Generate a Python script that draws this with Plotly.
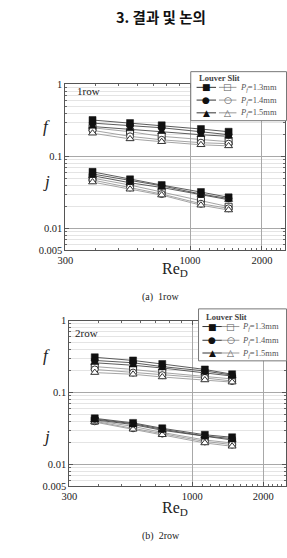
import plotly.graph_objects as go

W, H = 287, 558

# ---------------- data ----------------
pf_labels = ["1.3", "1.4", "1.5"]

re_1row = [390, 560, 760, 1110, 1450]
f_louver_1row = [[0.32, 0.29, 0.27, 0.24, 0.22],
                 [0.29, 0.27, 0.25, 0.22, 0.20],
                 [0.26, 0.24, 0.22, 0.20, 0.19]]
f_slit_1row = [[0.25, 0.22, 0.19, 0.17, 0.16],
               [0.23, 0.19, 0.17, 0.155, 0.15],
               [0.21, 0.175, 0.16, 0.145, 0.14]]
j_louver_1row = [[0.061, 0.048, 0.040, 0.032, 0.027],
                 [0.057, 0.046, 0.039, 0.030, 0.026],
                 [0.054, 0.043, 0.037, 0.029, 0.025]]
j_slit_1row = [[0.050, 0.040, 0.032, 0.024, 0.020],
               [0.047, 0.037, 0.030, 0.022, 0.019],
               [0.044, 0.035, 0.029, 0.021, 0.018]]

re_2row = [385, 560, 745, 1130, 1475]
f_louver_2row = [[0.31, 0.28, 0.25, 0.21, 0.18],
                 [0.28, 0.26, 0.23, 0.20, 0.175],
                 [0.26, 0.24, 0.22, 0.19, 0.17]]
f_slit_2row = [[0.23, 0.21, 0.19, 0.17, 0.155],
               [0.21, 0.19, 0.175, 0.16, 0.145],
               [0.19, 0.18, 0.165, 0.15, 0.14]]
j_louver_2row = [[0.044, 0.038, 0.032, 0.026, 0.024],
                 [0.043, 0.037, 0.031, 0.025, 0.023],
                 [0.042, 0.036, 0.030, 0.025, 0.022]]
j_slit_2row = [[0.041, 0.034, 0.028, 0.022, 0.020],
               [0.040, 0.032, 0.027, 0.021, 0.019],
               [0.039, 0.031, 0.026, 0.020, 0.018]]

y_tickvals = [0.005, 0.01, 0.1, 1]
y_ticktext = ["0.005", "0.01", "0.1", "1"]
x_tickvals = [300, 1000, 2000]
x_ticktext = ["300", "1000", "2000"]

# ---------------- helpers ----------------
def px(x):
    return x / W

def py(y):
    return 1 - y / H

SERIF = "Liberation Serif, Times New Roman, serif"
symbols = ["square", "circle", "triangle-up"]

fig = go.Figure()

def add_panel(xa, ya, re, f_l, f_s, j_l, j_s):
    for group in (f_s, j_s):
        for i, vals in enumerate(group):
            fig.add_trace(go.Scatter(
                x=re, y=vals, xaxis=xa, yaxis=ya, mode="lines+markers",
                line=dict(color="#9a9a9a", width=0.9),
                marker=dict(symbol=symbols[i], size=7, color="white",
                            line=dict(color="#333", width=1)),
                showlegend=False, hoverinfo="skip"))
    for group in (f_l, j_l):
        for i, vals in enumerate(group):
            fig.add_trace(go.Scatter(
                x=re, y=vals, xaxis=xa, yaxis=ya, mode="lines+markers",
                line=dict(color="#4a4a4a", width=0.9),
                marker=dict(symbol=symbols[i], size=7, color="#111",
                            line=dict(color="#111", width=0.5)),
                showlegend=False, hoverinfo="skip"))

add_panel("x", "y", re_1row, f_louver_1row, f_slit_1row, j_louver_1row, j_slit_1row)
add_panel("x2", "y2", re_2row, f_louver_2row, f_slit_2row, j_louver_2row, j_slit_2row)

y_minor = [v * m for v in (0.001, 0.01, 0.1) for m in range(2, 10) if 0.005 < v * m < 1]
x_minor = [v for v in range(400, 2500, 100) if v not in (1000, 2000)]

def xaxis(dom, anchor):
    return dict(type="log", domain=dom, anchor=anchor,
                range=[2.4771, 3.3979],
                tickmode="array", tickvals=x_tickvals, ticktext=x_ticktext,
                ticks="inside", ticklen=4, tickcolor="#555", tickwidth=1,
                showline=True, linecolor="#555", linewidth=1, mirror="ticks",
                showgrid=True, gridcolor="#a8a8a8", gridwidth=0.8,
                zeroline=False,
                tickfont=dict(family=SERIF, size=10.5, color="#222"),
                minor=dict(tickmode="array", tickvals=x_minor, ticks="inside",
                           ticklen=2, tickcolor="#666", showgrid=False))

def yaxis(dom, anchor):
    return dict(type="log", domain=dom, anchor=anchor,
                range=[-2.30103, 0],
                tickmode="array", tickvals=y_tickvals, ticktext=y_ticktext,
                ticks="inside", ticklen=4, tickcolor="#555", tickwidth=1,
                showline=True, linecolor="#555", linewidth=1, mirror="ticks",
                showgrid=True, gridcolor="#a8a8a8", gridwidth=0.8,
                zeroline=False,
                tickfont=dict(family=SERIF, size=10.5, color="#222"),
                minor=dict(tickmode="array", tickvals=y_minor, ticks="inside",
                           ticklen=2, tickcolor="#666", showgrid=True,
                           gridcolor="#e4e4e4", gridwidth=0.8))

fig.update_layout(
    width=W, height=H, margin=dict(l=0, r=0, t=0, b=0),
    paper_bgcolor="white", plot_bgcolor="white", showlegend=False,
    xaxis=xaxis([px(59), px(285)], "y"),
    yaxis=yaxis([py(250), py(81)], "x"),
    xaxis2=xaxis([px(63), px(286)], "y2"),
    yaxis2=yaxis([py(491), py(322)], "x2"),
)

ann = []
shapes = []

def text(x, y, s, size, family=SERIF, color="#222", angle=0, xanchor="center", **kw):
    ann.append(dict(x=px(x), y=py(y), xref="paper", yref="paper", text=s,
                    showarrow=False, xanchor=xanchor, yanchor="middle",
                    textangle=angle,
                    font=dict(family=family, size=size, color=color), **kw))

# title
text(157.5, 12, "<b>3. 결과 및 논의</b>", 14.5, family="Noto Sans CJK KR", color="#111")

def panel_labels(tag_y, rowtxt, row_x, f_y, j_y, re_y, cap, cap_y):
    text(row_x, tag_y, rowtxt, 11)
    text(40, f_y, "<i>f</i>", 17)
    text(40, j_y, "<i>j</i>", 17)
    text(172, re_y, "Re<sub>D</sub>", 16)
    text(157, cap_y, cap, 10)

panel_labels(88, "1row", 83, 124, 180, 270, "(a)  1row", 298)
panel_labels(335, "2row", 81, 358, 440, 514, "(b)  2row", 542)

def legend(x0, y0, x1, y1, head_y, rows_y, fx, ox, tx):
    shapes.append(dict(type="rect", xref="paper", yref="paper",
                       x0=px(x0), x1=px(x1), y0=py(y1), y1=py(y0),
                       line=dict(color="#777", width=1), fillcolor="white"))
    text(x0 + 6, head_y, "<b>Louver Slit</b>", 8.5, color="#444", xanchor="left")
    filled = ["■", "●", "▲"]
    opened = ["□", "○", "△"]
    for i, yy in enumerate(rows_y):
        shapes.append(dict(type="line", xref="paper", yref="paper",
                           x0=px(fx - 10), x1=px(fx + 10), y0=py(yy), y1=py(yy),
                           line=dict(color="#333", width=1)))
        shapes.append(dict(type="line", xref="paper", yref="paper",
                           x0=px(ox - 9), x1=px(ox + 9), y0=py(yy), y1=py(yy),
                           line=dict(color="#999", width=1)))
        text(fx, yy, filled[i], 9, family="DejaVu Sans", color="#111")
        text(ox, yy, opened[i], 9, family="DejaVu Sans", color="#555")
        text(tx, yy, "<i>P</i><sub><i>f</i></sub>=" + pf_labels[i] + "mm", 8.5,
             color="#555", xanchor="left")

legend(188, 68, 286.5, 118, 74, [84, 97, 110], 204, 226, 237)
legend(196, 310, 286.5, 363, 318, [328, 342, 355], 210, 229, 239)

fig.update_layout(annotations=ann, shapes=shapes)
fig.write_html("out.html")
